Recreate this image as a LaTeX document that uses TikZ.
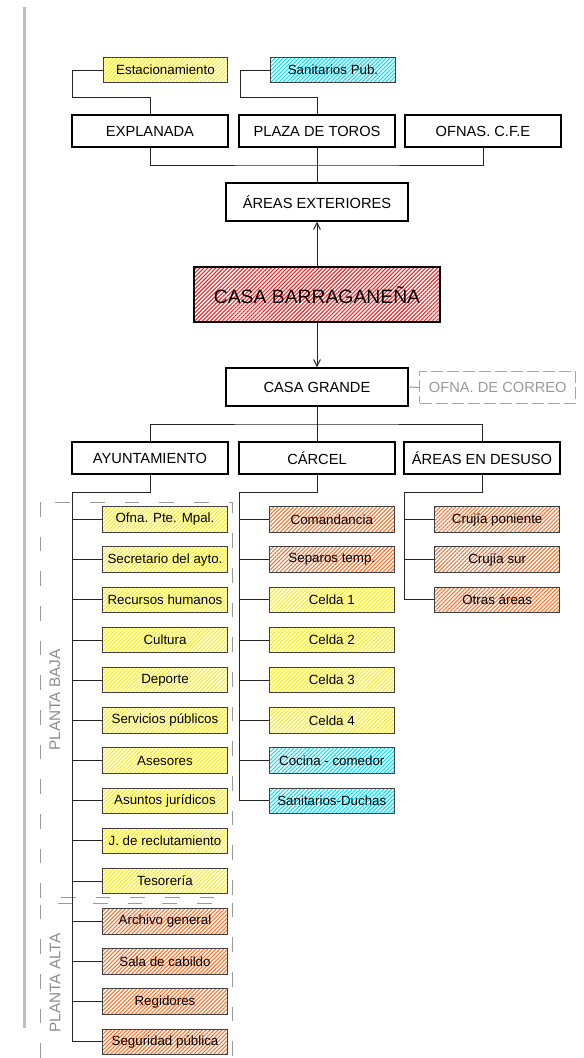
\documentclass[tikz,border=0pt]{standalone}
\usepackage{fontspec}
\setmainfont{Liberation Sans}
\usetikzlibrary{arrows.meta,patterns.meta}
\definecolor{hatchyellow}{RGB}{255,238,0}
\definecolor{hatchorange}{RGB}{255,110,40}
\definecolor{hatchcyan}{RGB}{0,225,255}
\definecolor{hatchred}{RGB}{255,25,25}
\definecolor{linegray}{RGB}{64,64,64}

\begin{document}
\begin{tikzpicture}[x=0.75pt,y=-0.75pt,
  box/.style={draw=black, line width=1.1pt, inner sep=0pt, minimum width=117pt, minimum height=24pt, font=\fontsize{11}{13}\selectfont},
  widebox/.style={box, minimum width=136.5pt, minimum height=28.5pt},
  leaf/.style={draw=linegray, line width=0.75pt, inner sep=0pt, minimum width=93.5pt, minimum height=19.1pt, font=\fontsize{10}{12}\selectfont},
  hatch/.style={pattern={Lines[angle=45,distance=2.1pt,line width=0.8pt]}, pattern color=#1},
  link/.style={draw=black!85, line width=0.75pt},
  arr/.style={link, -{Straight Barb[length=5pt,width=5pt]}},
  floor/.style={draw=black!40, line width=0.75pt, dash pattern=on 11pt off 15pt},
  floorlabel/.style={text=black!45, font=\fontsize{11.5}{13}\selectfont, rotate=90}]
  \useasboundingbox (0,0) rectangle (583,1058);
  \fill[black!25] (23,7) rectangle (26,1028);
  % Areas exteriores
  \node[leaf, hatch=hatchyellow] (estac) at (165.5,70) {Estacionamiento};
  \node[leaf, hatch=hatchcyan] (sanpub) at (333,70) {Sanitarios Pub.};
  \node[box] (explanada) at (150,131) {EXPLANADA};
  \node[box] (plaza) at (317,131) {PLAZA DE TOROS};
  \node[box] (cfe) at (483,131) {OFNAS. C.F.E};
  \node[widebox] (exteriores) at (317,202) {ÁREAS EXTERIORES};
  \draw[link] (estac.west) -| (72,97) -| (explanada.north);
  \draw[link] (sanpub.west) -| (240,97) -| (plaza.north);
  \coordinate (busext) at (317,165);
  \draw[link] (explanada.south) |- (busext) -| (cfe.south);
  \draw[link] (plaza.south) -- (exteriores.north);
  % Casa Barraganena and casa grande
  \node[box, line width=1.6pt, minimum width=185pt, minimum height=41pt, hatch=hatchred, font=\fontsize{14.5}{16}\selectfont] (barraganena) at (317,294.6) {CASA BARRAGANEÑA};
  \node[widebox] (grande) at (317,387) {CASA GRANDE};
  \node[box, draw=black!35, line width=0.75pt, dash pattern=on 9pt off 3pt, minimum height=23.6pt, text=black!40] (correo) at (497.8,387.5) {OFNA. DE CORREO};
  \draw[arr] (barraganena.north) -- (exteriores.south);
  \draw[arr] (barraganena.south) -- (grande.north);
  \draw[link, draw=black!40] (grande.east) -- (correo.west);
  % Second level
  \node[box] (ayunt) at (150,458) {AYUNTAMIENTO};
  \node[box] (carcel) at (317,458) {CÁRCEL};
  \node[box] (desuso) at (482,458) {ÁREAS EN DESUSO};
  \coordinate (busgrande) at (317,424);
  \draw[link] (grande.south) -- (busgrande);
  \draw[link] (ayunt.north) |- (busgrande) -| (desuso.north);
  \draw[link] (busgrande) -- (carcel.north);
  % Floors
  \draw[floor] (40,502) rectangle (232,897);
  \draw[floor] (40,1058) -- (40,903) -- (232,903) -- (232,1058);
  \node[floorlabel] (baja) at (55,700) {PLANTA BAJA};
  \node[floorlabel] (alta) at (55,983) {PLANTA ALTA};
  % Ayuntamiento
  \node[leaf, hatch=hatchyellow] (a1) at (165,519.5) {Ofna. Pte. Mpal.};
  \node[leaf, hatch=hatchyellow] (a2) at (165,559.7) {Secretario del ayto.};
  \node[leaf, hatch=hatchyellow] (a3) at (165,599.9) {Recursos humanos};
  \node[leaf, hatch=hatchyellow] (a4) at (165,640.0) {Cultura};
  \node[leaf, hatch=hatchyellow] (a5) at (165,680.2) {Deporte};
  \node[leaf, hatch=hatchyellow] (a6) at (165,720.4) {Servicios públicos};
  \node[leaf, hatch=hatchyellow] (a7) at (165,760.6) {Asesores};
  \node[leaf, hatch=hatchyellow] (a8) at (165,800.8) {Asuntos jurídicos};
  \node[leaf, hatch=hatchyellow] (a9) at (165,840.9) {J. de reclutamiento};
  \node[leaf, hatch=hatchyellow] (a10) at (165,881.1) {Tesorería};
  \node[leaf, hatch=hatchorange] (a11) at (165,921.3) {Archivo general};
  \node[leaf, hatch=hatchorange] (a12) at (165,961.5) {Sala de cabildo};
  \node[leaf, hatch=hatchorange] (a13) at (165,1001.7) {Regidores};
  \node[leaf, hatch=hatchorange] (a14) at (165,1041.8) {Seguridad pública};
  \coordinate (aspine) at (72,492);
  \draw[link] (ayunt.south) |- (aspine) |- (a14.west);
  \draw[link] (aspine |- a1.west) -- (a1.west);
  \draw[link] (aspine |- a2.west) -- (a2.west);
  \draw[link] (aspine |- a3.west) -- (a3.west);
  \draw[link] (aspine |- a4.west) -- (a4.west);
  \draw[link] (aspine |- a5.west) -- (a5.west);
  \draw[link] (aspine |- a6.west) -- (a6.west);
  \draw[link] (aspine |- a7.west) -- (a7.west);
  \draw[link] (aspine |- a8.west) -- (a8.west);
  \draw[link] (aspine |- a9.west) -- (a9.west);
  \draw[link] (aspine |- a10.west) -- (a10.west);
  \draw[link] (aspine |- a11.west) -- (a11.west);
  \draw[link] (aspine |- a12.west) -- (a12.west);
  \draw[link] (aspine |- a13.west) -- (a13.west);
  % Carcel
  \node[leaf, hatch=hatchorange] (c1) at (331.8,519.5) {Comandancia};
  \node[leaf, hatch=hatchorange] (c2) at (331.8,559.7) {Separos temp.};
  \node[leaf, hatch=hatchyellow] (c3) at (331.8,599.9) {Celda 1};
  \node[leaf, hatch=hatchyellow] (c4) at (331.8,640.0) {Celda 2};
  \node[leaf, hatch=hatchyellow] (c5) at (331.8,680.2) {Celda 3};
  \node[leaf, hatch=hatchyellow] (c6) at (331.8,720.4) {Celda 4};
  \node[leaf, hatch=hatchcyan] (c7) at (331.8,760.6) {Cocina - comedor};
  \node[leaf, hatch=hatchcyan] (c8) at (331.8,800.8) {Sanitarios-Duchas};
  \coordinate (cspine) at (239.3,492);
  \draw[link] (carcel.south) |- (cspine) |- (c8.west);
  \draw[link] (cspine |- c1.west) -- (c1.west);
  \draw[link] (cspine |- c2.west) -- (c2.west);
  \draw[link] (cspine |- c3.west) -- (c3.west);
  \draw[link] (cspine |- c4.west) -- (c4.west);
  \draw[link] (cspine |- c5.west) -- (c5.west);
  \draw[link] (cspine |- c6.west) -- (c6.west);
  \draw[link] (cspine |- c7.west) -- (c7.west);
  % Areas en desuso
  \node[leaf, hatch=hatchorange] (d1) at (497.2,519.5) {Crujía poniente};
  \node[leaf, hatch=hatchorange] (d2) at (497.2,559.7) {Crujía sur};
  \node[leaf, hatch=hatchorange] (d3) at (497.2,599.9) {Otras áreas};
  \coordinate (dspine) at (404.3,492);
  \draw[link] (desuso.south) |- (dspine) |- (d3.west);
  \draw[link] (dspine |- d1.west) -- (d1.west);
  \draw[link] (dspine |- d2.west) -- (d2.west);
\end{tikzpicture}
\end{document}
